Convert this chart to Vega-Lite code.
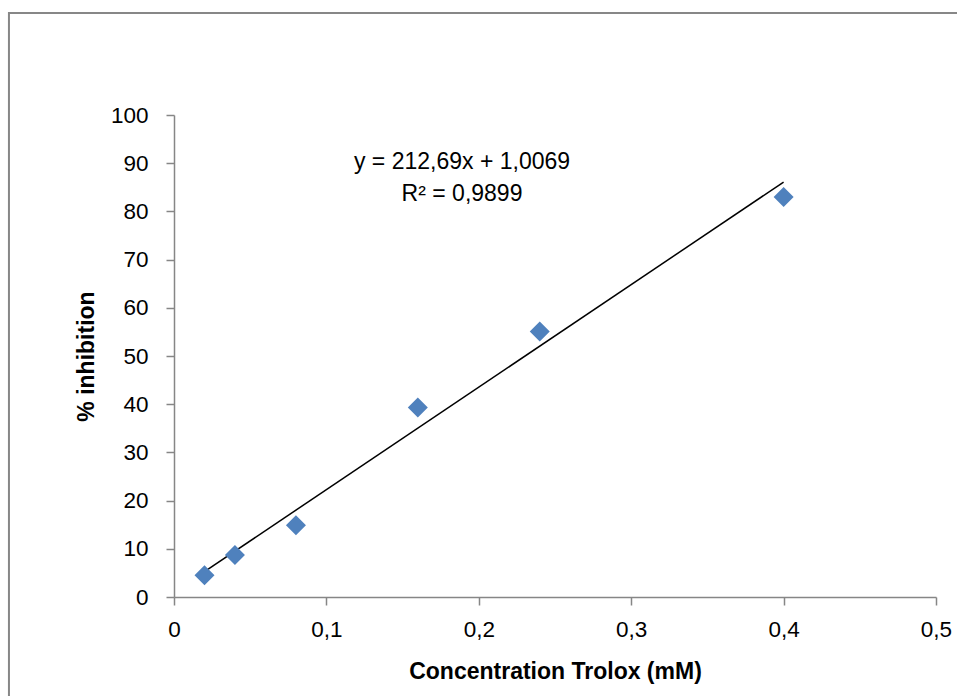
{
  "$schema": "https://vega.github.io/schema/vega-lite/v6.json",
  "width": 762,
  "height": 482,
  "autosize": {"type": "none"},
  "padding": {"left": 174, "top": 115, "right": 21, "bottom": 99},
  "background": "white",
  "config": {
    "view": {"stroke": null},
    "font": "Liberation Sans",
    "axis": {
      "domainColor": "#868686",
      "domainWidth": 1.5,
      "tickColor": "#868686",
      "tickWidth": 1.5,
      "tickSize": 8,
      "grid": false,
      "labelFlush": false,
      "labelOverlap": false,
      "labelFont": "Liberation Sans",
      "labelFontSize": 22.5,
      "labelColor": "#000000",
      "titleFont": "Liberation Sans",
      "titleFontSize": 23,
      "titleFontWeight": "bold",
      "titleColor": "#000000"
    }
  },
  "datasets": {
    "points": [
      {"conc": 0.02, "inhibition": 4.5},
      {"conc": 0.04, "inhibition": 8.7},
      {"conc": 0.08, "inhibition": 14.9},
      {"conc": 0.16, "inhibition": 39.3},
      {"conc": 0.24, "inhibition": 55.1},
      {"conc": 0.4, "inhibition": 83.0}
    ],
    "trend": [
      {"conc": 0.02, "inhibition": 5.26},
      {"conc": 0.4, "inhibition": 86.08}
    ]
  },
  "layer": [
    {
      "data": {"values": [{}]},
      "mark": {"type": "rect", "fill": null, "stroke": "#878787", "strokeWidth": 2, "clip": false},
      "encoding": {
        "x": {"datum": -0.1083, "type": "quantitative"},
        "x2": {"datum": 0.56},
        "y": {"datum": 121.16, "type": "quantitative"},
        "y2": {"datum": -25}
      }
    },
    {
      "data": {"name": "trend"},
      "mark": {"type": "line", "color": "#000000", "strokeWidth": 1.5},
      "encoding": {
        "x": {
          "field": "conc", "type": "quantitative",
          "scale": {"domain": [0, 0.5], "nice": false, "zero": true},
          "axis": {
            "values": [0, 0.1, 0.2, 0.3, 0.4, 0.5],
            "labelExpr": "replace(format(datum.value, '~g'), '.', ',')",
            "labelPadding": 13,
            "title": "Concentration Trolox (mM)",
            "titlePadding": 20
          }
        },
        "y": {
          "field": "inhibition", "type": "quantitative",
          "scale": {"domain": [0, 100], "nice": false},
          "axis": {
            "values": [0, 10, 20, 30, 40, 50, 60, 70, 80, 90, 100],
            "labelPadding": 18,
            "title": "% inhibition",
            "titlePadding": 12
          }
        }
      }
    },
    {
      "data": {"name": "points"},
      "mark": {"type": "point", "shape": "diamond", "filled": true, "size": 400, "color": "#4F81BD", "opacity": 1},
      "encoding": {
        "x": {"field": "conc", "type": "quantitative"},
        "y": {"field": "inhibition", "type": "quantitative"}
      }
    },
    {
      "data": {"values": [{}]},
      "mark": {"type": "text", "fontSize": 23, "font": "Liberation Sans", "color": "#000000", "align": "center", "baseline": "middle"},
      "encoding": {
        "x": {"datum": 0.189, "type": "quantitative"},
        "y": {"datum": 90.3, "type": "quantitative"},
        "text": {"value": "y = 212,69x + 1,0069"}
      }
    },
    {
      "data": {"values": [{}]},
      "mark": {"type": "text", "fontSize": 23, "font": "Liberation Sans", "color": "#000000", "align": "center", "baseline": "middle"},
      "encoding": {
        "x": {"datum": 0.189, "type": "quantitative"},
        "y": {"datum": 83.6, "type": "quantitative"},
        "text": {"value": "R² = 0,9899"}
      }
    }
  ]
}
